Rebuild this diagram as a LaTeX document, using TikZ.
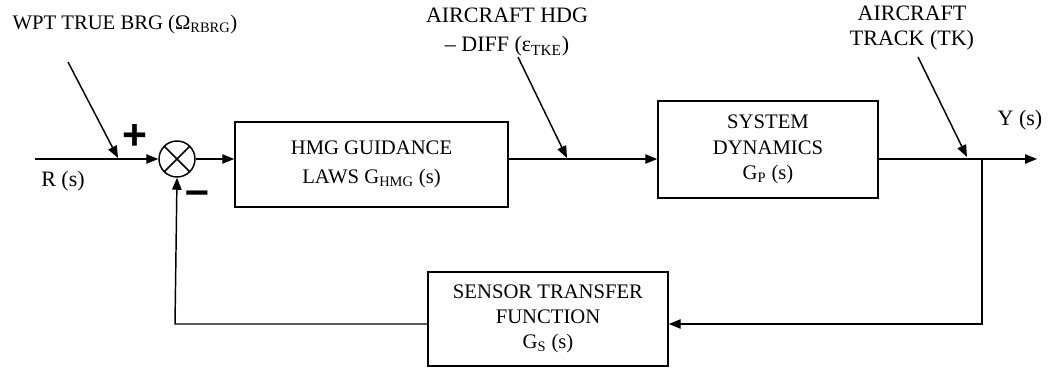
\documentclass[tikz,border=0pt]{standalone}
\usepackage{fontspec}
\setmainfont{Liberation Serif}
\newfontfamily\signfont{Liberation Sans}
\usetikzlibrary{arrows.meta,calc}
\tikzset{
  conn/.style={line width=1.1pt},
  arr/.style={conn,-{Triangle[length=9pt,width=7pt]}},
  blk/.style={draw,line width=1.1pt,inner sep=0pt,align=center,font=\fontsize{15.5}{19}\selectfont},
  lbl/.style={inner sep=0pt,align=center,font=\fontsize{16.5}{19}\selectfont},
  sumj/.style={draw,circle,line width=1.1pt,minimum size=27pt,inner sep=0pt},
  sign/.style={inner sep=0pt,font=\signfont\bfseries\fontsize{32}{32}\selectfont}
}
\begin{document}
\begin{tikzpicture}[x=0.75pt,y=-0.75pt]
\useasboundingbox (0,0) rectangle (1048,371);
% blocks
\node[sumj] (sum) at (177,159) {};
\draw[conn] (sum.45) -- (sum.225) (sum.135) -- (sum.315);
\node[blk,minimum width=204.75pt,minimum height=63.75pt] (hmg) at (371.5,164.5)
  {HMG GUIDANCE\\[3pt]LAWS G\textsubscript{HMG} (s)};
\node[blk,minimum width=165pt,minimum height=72.75pt] (sys) at (768,149.5)
  {SYSTEM\\DYNAMICS\\G\textsubscript{P} (s)};
\node[blk,minimum width=180pt,minimum height=70.5pt] (sen) at (548,319)
  {SENSOR TRANSFER\\FUNCTION\\G\textsubscript{S} (s)};
% labels
\node[lbl,font=\fontsize{15.5}{19}\selectfont] (wpt) at (125,25) {WPT TRUE BRG (Ω\textsubscript{RBRG})};
\node[lbl] (rs) at (63,181) {R (s)};
\node[lbl] (hdg) at (507,32) {AIRCRAFT HDG\\[3pt]– DIFF (ε\textsubscript{TKE})};
\node[lbl] (trk) at (912,28) {AIRCRAFT\\TRACK (TK)};
\node[lbl] (ys) at (1020,120) {Y (s)};
\node[sign] (plus) at (135,137) {+};
\node[sign] (minus) at (197,198) {–};
% coordinates
\coordinate (rin) at (35,159);
\coordinate (wptA) at (68,62);
\coordinate (wptB) at (118,158);
\coordinate (hdgA) at (518,57);
\coordinate (hdgB) at (567,158);
\coordinate (trkA) at (918,57);
\coordinate (trkB) at (967,157);
\coordinate (br) at (982,159);
\coordinate (yout) at (1037,159);
\coordinate (fbr) at (982,324);
\coordinate (fbl) at (175,324);
% connectors
\draw[arr] (rin) -- (sum.west);
\draw[arr] (wptA) -- (wptB);
\draw[arr] (sum.east) -- (sum.east -| hmg.west);
\draw[arr] (hmg.east |- sum.east) -- (sys.west |- sum.east);
\draw[arr] (hdgA) -- (hdgB);
\draw[arr] (sys.east |- sum.east) -- (yout);
\draw[arr] (trkA) -- (trkB);
\draw[arr] (br) -- (fbr) -- (sen.east |- fbr);
\draw[arr] (sen.west |- fbl) -- (fbl) -- (sum.south);
\end{tikzpicture}
\end{document}
